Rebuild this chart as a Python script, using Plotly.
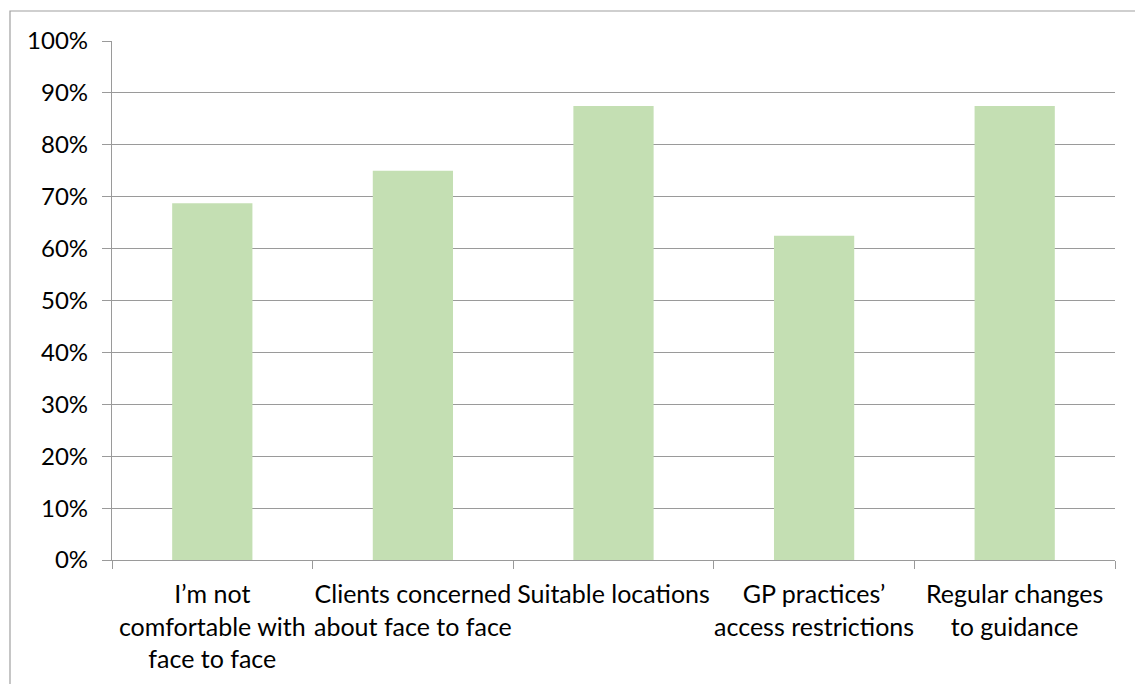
import plotly.graph_objects as go

categories = [
    "I’m not<br>comfortable with<br>face to face",
    "Clients concerned<br>about face to face",
    "Suitable locations",
    "GP practices’<br>access restrictions",
    "Regular changes<br>to guidance",
]
values = [0.6875, 0.75, 0.875, 0.625, 0.875]
y_ticks = [i / 10 for i in range(11)]

FONT = "Lato, Carlito, Calibri, sans-serif"
GRID = "#9a9a9a"
TXT = "#000000"

fig = go.Figure(
    go.Bar(
        x=categories,
        y=values,
        marker=dict(color="#C4DFB3", line=dict(width=0)),
        width=0.4,
    )
)

W, H = 1135, 684
ml, mr, mt, mb = 112, 20, 41, 124
pw = W - ml - mr
ph = H - mt - mb

fig.update_layout(
    width=W,
    height=H,
    margin=dict(l=ml, r=mr, t=mt, b=mb),
    paper_bgcolor="white",
    plot_bgcolor="white",
    showlegend=False,
    font=dict(family=FONT, size=24, color=TXT),
    bargap=0.6,
    shapes=[
        dict(
            type="rect",
            xref="paper",
            yref="paper",
            x0=(10 - ml) / pw,
            x1=1.2,
            y0=-0.6,
            y1=1 + (mt - 11) / ph,
            line=dict(color="#a0a0a0", width=1.2),
            fillcolor="rgba(0,0,0,0)",
            layer="below",
        )
    ],
)

fig.update_xaxes(
    showline=True,
    linecolor=GRID,
    linewidth=1.2,
    ticks="outside",
    ticklen=8,
    tickcolor=GRID,
    tickson="boundaries",
    showgrid=False,
    ticklabelstandoff=12,
    tickfont=dict(family=FONT, size=25, color=TXT),
    tickangle=0,
)

fig.update_yaxes(
    range=[0, 1],
    tickvals=y_ticks,
    tickformat=".0%",
    showline=True,
    linecolor=GRID,
    linewidth=1.2,
    ticks="outside",
    ticklen=9,
    tickcolor=GRID,
    showgrid=True,
    gridcolor=GRID,
    gridwidth=1.2,
    zeroline=False,
    ticklabelstandoff=9,
    tickfont=dict(family=FONT, size=24, color=TXT),
)

fig.write_html("out.html")
